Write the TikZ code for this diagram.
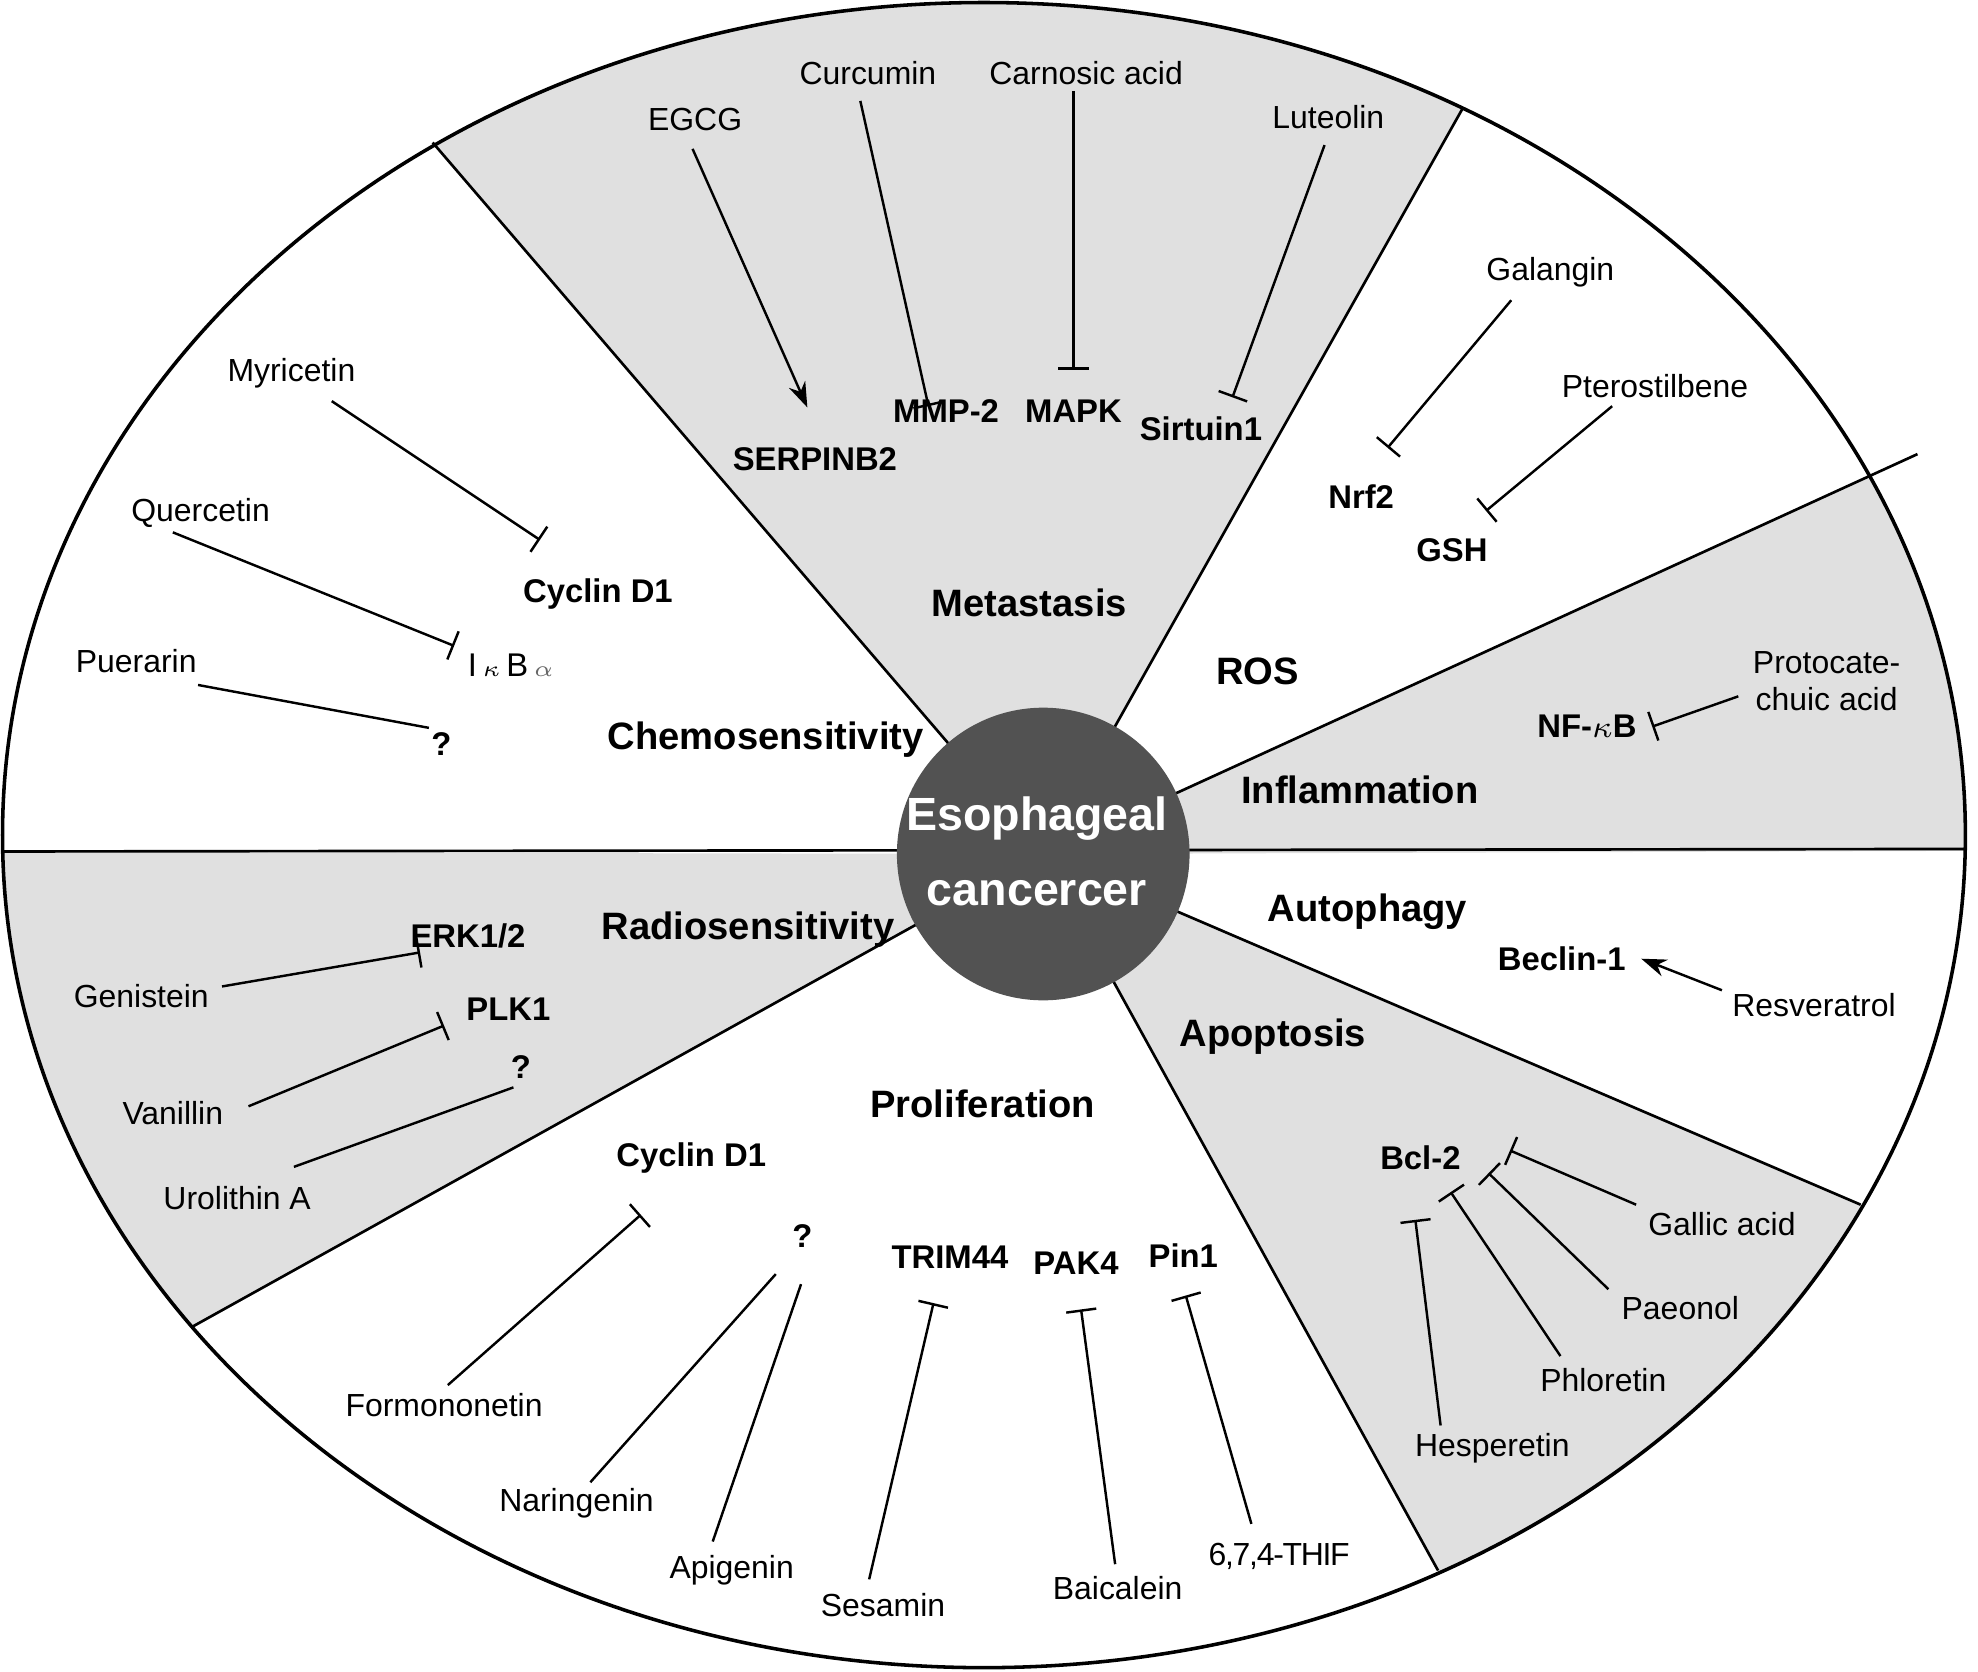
\documentclass[tikz,border=0pt]{standalone}
\usepackage{fontspec}
\setmainfont{Liberation Sans}
\usetikzlibrary{arrows.meta,calc}
\begin{document}
\begin{tikzpicture}[x=0.01cm,y=-0.01cm,
 lab/.style={font=\fontsize{7.2}{8.5}\selectfont,align=center},
 tgt/.style={font=\bfseries\fontsize{7.4}{9}\selectfont},
 sec/.style={font=\bfseries\fontsize{8.6}{10}\selectfont},
 inh/.style={-{Bar[width=0.24cm]},line width=0.55pt},
 act/.style={-{Stealth[length=0.2cm,width=0.14cm]},line width=0.55pt},
 spoke/.style={line width=0.6pt}]
\useasboundingbox (0,0) rectangle (1568,1325);
\coordinate (C) at (827,677);
\begin{scope}
\clip (780,662) ellipse [x radius=778, y radius=660];
\fill[black!12] (C) -- ($(C)!1.6!(343,113)$) -- ($(C)!1.6!(1160,85)$) -- cycle;
\fill[black!12] (C) -- ($(C)!1.6!(1520,360)$) -- (2000,360) -- (2000,673) -- cycle;
\fill[black!12] (C) -- (-200,675) -- (-200,1200) -- ($(C)!1.6!(152,1052)$) -- cycle;
\fill[black!12] (C) -- ($(C)!1.6!(1475,955)$) -- ($(C)!1.6!(1140,1245)$) -- cycle;
\end{scope}
\draw[spoke] (C) -- (343,113);
\draw[spoke] (C) -- (1160,85);
\draw[spoke] (C) -- (1520,360);
\draw[spoke] (2,675) -- (1558,673);
\draw[spoke] (C) -- (1475,955);
\draw[spoke] (C) -- (1140,1245);
\draw[spoke] (C) -- (152,1052);
\draw[line width=0.8pt] (780,662) ellipse [x radius=778, y radius=660];
\fill[black!68] (C) circle [radius=116];
\node[font=\bfseries\fontsize{10.5}{17}\selectfont,text=white,align=center] (ec) at (822,675) {Esophageal\\cancercer};

% Metastasis
\node[sec] (met) at (816,478) {Metastasis};
\node[lab] (egcg) at (551,95) {EGCG};
\node[lab] (cur) at (688,58) {Curcumin};
\node[lab] (car) at (861,58) {Carnosic acid};
\node[lab] (lut) at (1053,93) {Luteolin};
\node[tgt] (serp) at (646,364) {SERPINB2};
\node[tgt] (mmp) at (750,326) {MMP-2};
\node[tgt] (mapk) at (851,326) {MAPK};
\node[tgt] (sirt) at (952,340) {Sirtuin1};
\coordinate (a1) at (640,323);
\coordinate (a2) at (736,322);
\coordinate (a3) at (851,293);
\coordinate (a4) at (977,315);
\draw[act] (549,118) -- (a1);
\draw[inh] (682,80) -- (a2);
\draw[inh] (851,72) -- (a3);
\draw[inh] (1050,115) -- (a4);

% ROS
\node[sec] (ros) at (997,532) {ROS};
\node[lab] (gal) at (1229,216) {Galangin};
\node[lab] (pte) at (1312,306) {Pterostilbene};
\node[tgt] (nrf) at (1079,394) {Nrf2};
\node[tgt] (gsh) at (1151,436) {GSH};
\coordinate (b1) at (1100,355);
\coordinate (b2) at (1178,405);
\draw[inh] (1198,238) -- (b1);
\draw[inh] (1278,322) -- (b2);

% Inflammation
\node[sec] (inf) at (1078,626) {Inflammation};
\node[lab] (pro) at (1448,540) {Protocate-\\chuic acid};
\node[tgt] (nfkb) at (1258,576) {NF-$\kappa$B};
\draw[inh] (1378,552) -- (nfkb.east);

% Autophagy
\node[sec] (aut) at (1084,723) {Autophagy};
\node[tgt] (bec) at (1238,760) {Beclin-1};
\node[lab] (res) at (1438,797) {Resveratrol};
\draw[act] (1365,785) -- (bec.east);

% Apoptosis
\node[sec] (apo) at (1009,822) {Apoptosis};
\node[tgt] (bcl) at (1126,918) {Bcl-2};
\node[lab] (gall) at (1365,970) {Gallic acid};
\node[lab] (pae) at (1332,1037) {Paeonol};
\node[lab] (phl) at (1271,1094) {Phloretin};
\node[lab] (hes) at (1183,1148) {Hesperetin};
\coordinate (c1) at (1197,912);
\coordinate (c2) at (1180,930);
\coordinate (c3) at (1150,945);
\coordinate (c4) at (1122,967);
\draw[inh] (1297,955) -- (c1);
\draw[inh] (1275,1022) -- (c2);
\draw[inh] (1237,1075) -- (c3);
\draw[inh] (1142,1130) -- (c4);

% Proliferation
\node[sec] (prol) at (779,875) {Proliferation};
\node[tgt] (cyc2) at (548,918) {Cyclin D1};
\node[tgt] (q3) at (636,980) {?};
\node[tgt] (tri) at (753,997) {TRIM44};
\node[tgt] (pak) at (853,1001) {PAK4};
\node[tgt] (pin) at (938,995) {Pin1};
\node[lab] (form) at (352,1114) {Formononetin};
\node[lab] (nar) at (457,1192) {Naringenin};
\node[lab] (api) at (580,1245) {Apigenin};
\node[lab] (ses) at (700,1272) {Sesamin};
\node[lab] (bai) at (886,1259) {Baicalein};
\node[lab] (thif) at (1014,1234) {\addfontfeatures{LetterSpace=-4}6,7,4-THIF};
\coordinate (d1) at (508,963);
\coordinate (d4) at (740,1033);
\coordinate (d5) at (857,1038);
\coordinate (d6) at (940,1027);
\draw[inh] (355,1098) -- (d1);
\draw[line width=0.55pt] (468,1175) -- (615,1010);
\draw[line width=0.55pt] (565,1222) -- (635,1018);
\draw[inh] (689,1252) -- (d4);
\draw[inh] (884,1240) -- (d5);
\draw[inh] (992,1208) -- (d6);

% Radiosensitivity
\node[sec] (rad) at (593,737) {Radiosensitivity};
\node[tgt] (erk) at (371,742) {ERK1/2};
\node[tgt] (plk) at (403,800) {PLK1};
\node[tgt] (q2) at (413,846) {?};
\node[lab] (gen) at (112,790) {Genistein};
\node[lab] (van) at (137,882) {Vanillin};
\node[lab] (uro) at (188,950) {Urolithin A};
\coordinate (e1) at (333,755);
\coordinate (e2) at (352,813);
\draw[inh] (176,782) -- (e1);
\draw[inh] (197,877) -- (e2);
\draw[line width=0.55pt] (233,925) -- (407,862);

% Chemosensitivity
\node[sec] (che) at (607,586) {Chemosensitivity};
\node[lab] (myr) at (231,296) {Myricetin};
\node[lab] (que) at (159,407) {Quercetin};
\node[lab] (pue) at (108,524) {Puerarin};
\node[tgt] (cyc1) at (474,471) {Cyclin D1};
\node[font=\fontsize{7.4}{9}\selectfont] (ikb) at (405,527) {I\,$\scriptstyle\kappa$\,B\,{\color{black!60}$\scriptstyle\alpha$}};
\node[tgt] (q1) at (350,590) {?};
\coordinate (f1) at (428,428);
\coordinate (f2) at (360,512);
\draw[inh] (263,318) -- (f1);
\draw[inh] (137,422) -- (f2);
\draw[line width=0.55pt] (157,543) -- (340,577);
\end{tikzpicture}
\end{document}
